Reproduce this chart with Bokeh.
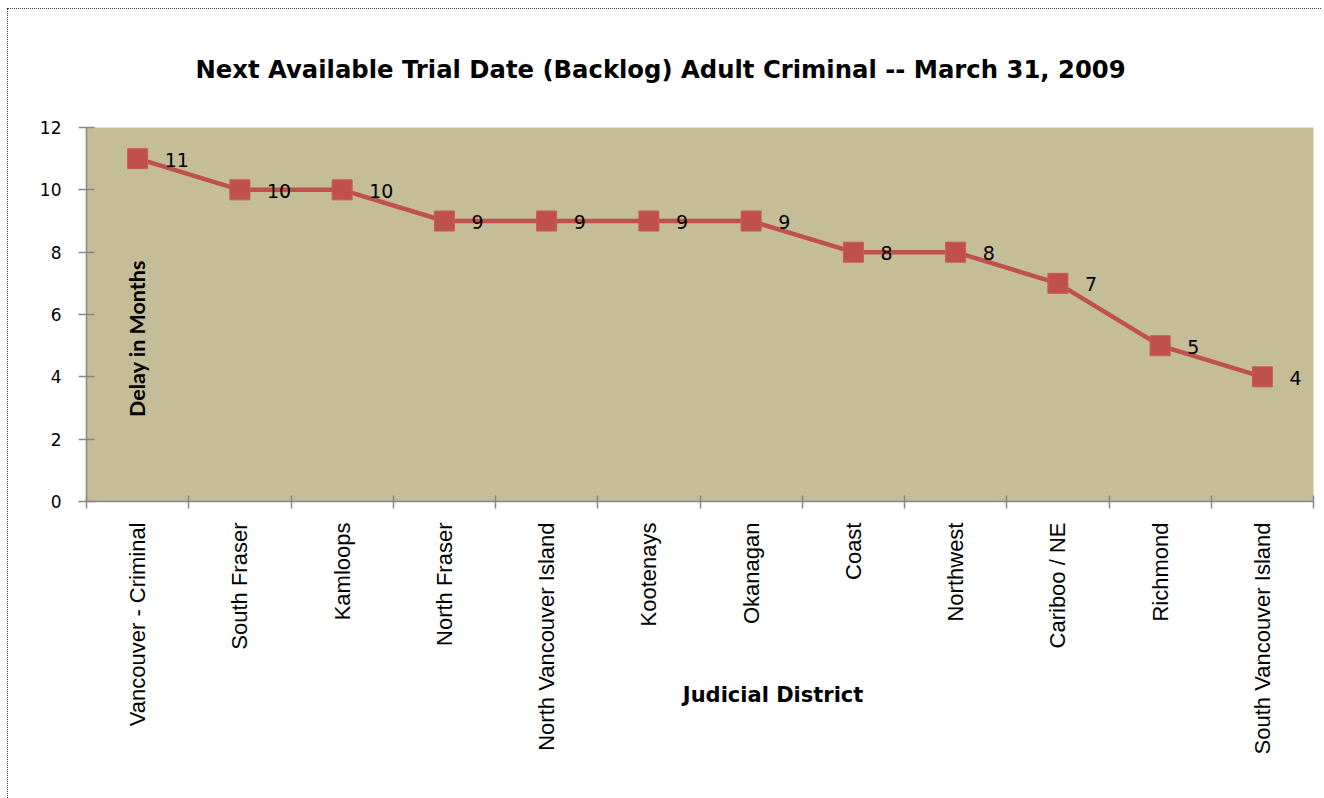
from bokeh.plotting import figure
from bokeh.models import Range1d, FixedTicker, Label, ColumnDataSource, LabelSet, Title
from bokeh.embed import file_html
from bokeh.resources import INLINE
from bokeh.core.properties import value
import math

districts = ["Vancouver - Criminal", "South Fraser", "Kamloops", "North Fraser",
             "North Vancouver Island", "Kootenays", "Okanagan", "Coast",
             "Northwest", "Cariboo / NE", "Richmond", "South Vancouver Island"]
delay_months = [11, 10, 10, 9, 9, 9, 9, 8, 8, 7, 5, 4]
y_ticks = [0, 2, 4, 6, 8, 10, 12]

title_text = "Next Available Trial Date (Backlog) Adult Criminal -- March 31, 2009"
y_title = "Delay in Months"
x_title = "Judicial District"

n = len(districts)
xs = [i + 0.5 for i in range(n)]

p = figure(width=1314, height=790, output_backend="svg", toolbar_location=None,
           x_range=Range1d(0, n), y_range=Range1d(0, 12),
           min_border_left=79, min_border_right=8, min_border_top=119, min_border_bottom=297)
p.background_fill_color = "#C4BD97"
p.border_fill_color = "white"
p.outline_line_color = None
p.grid.visible = False
p.styles = {"outline": "1px dotted #000000", "outline-offset": "-1px",
            "margin-left": "7px", "margin-top": "8px"}

p.add_layout(Title(text=title_text, align="left", offset=109, standoff=87,
                   text_font="DejaVu Sans", text_font_style="bold",
                   text_font_size="24.3px", text_color="#000000"), "above")

# y axis
ya = p.yaxis[0]
ya.ticker = FixedTicker(ticks=y_ticks, minor_ticks=[])
ya.axis_line_color = "#868686"
ya.axis_line_width = 1.5
ya.major_tick_line_color = "#868686"
ya.major_tick_line_width = 1.5
ya.major_tick_in = 8
ya.major_tick_out = 8
ya.minor_tick_line_color = None
ya.major_label_standoff = 17
ya.major_label_text_font = "DejaVu Sans"
ya.major_label_text_font_size = "17px"
ya.major_label_text_color = "#000000"

# x axis: labels at category centres, ticks at boundaries
xa = p.xaxis[0]
xa.ticker = FixedTicker(ticks=xs, minor_ticks=list(range(n + 1)))
xa.major_label_overrides = {x: d for x, d in zip(xs, districts)}
xa.major_label_orientation = math.pi / 2
xa.axis_line_color = "#868686"
xa.axis_line_width = 1.5
xa.major_tick_line_color = None
xa.major_tick_out = 0
xa.major_tick_in = 0
xa.minor_tick_line_color = "#868686"
xa.minor_tick_line_width = 1.5
xa.minor_tick_in = 6
xa.minor_tick_out = 7
xa.major_label_standoff = 14
xa.major_label_text_font = "Liberation Sans"
xa.major_label_text_font_size = "22px"
xa.major_label_text_color = "#000000"
# axis title pulled up into the label area and nudged right (as in the original)
xa.axis_label = "\u00a0" * 20 + x_title
xa.axis_label_standoff = -74
xa.axis_label_text_font = "DejaVu Sans"
xa.axis_label_text_font_style = "bold"
xa.axis_label_text_font_size = "21px"
xa.axis_label_text_color = "#000000"

src = ColumnDataSource(dict(x=xs, y=delay_months, t=[str(v) for v in delay_months]))
p.line("x", "y", source=src, line_color="#C0504D", line_width=4.5)
p.scatter("x", "y", source=src, marker="square", size=20, fill_color="#C0504D",
          line_color="#C85A57", line_width=1)
p.add_layout(LabelSet(x="x", y="y", text="t", source=src, x_offset=27, y_offset=-1,
                      text_font=value("DejaVu Sans"), text_font_size="19px",
                      text_color="#000000", text_baseline="middle", text_align="left"))

p.add_layout(Label(x=0.49, y=5.23, text=y_title, angle=math.pi / 2, text_font="Lato",
                   text_font_style="bold", text_font_size="21.5px", text_align="center",
                   text_baseline="middle", text_color="#000000"))

open("out.html", "w").write(file_html(p, INLINE))
